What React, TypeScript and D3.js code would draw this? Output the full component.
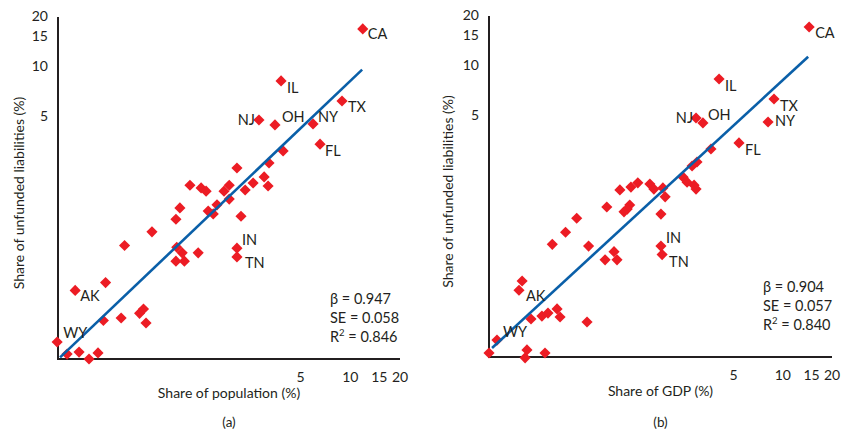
import React from "react";
import * as d3 from "d3";

// ---------- DATA ----------
const tickValues = [5, 10, 15, 20];

// Panel (a): share of population vs share of unfunded liabilities (%)
const popShare = [11.9, 3.81, 8.91, 2.8, 3.5, 5.95, 6.56, 3.92, 3.22, 2.06, 3.01, 2.58, 3.18, 2.31, 1.85, 1.72, 1.07, 1.25, 1.34, 1.85, 0.93, 1.56, 1.38, 1.48, 2.18, 0.88, 0.63, 0.43, 0.89, 0.96, 0.88, 0.99, 1.2, 2.06, 2.06, 0.33, 0.216, 0.32, 0.41, 0.53, 0.56, 0.58, 0.168, 0.193, 0.228, 0.262, 0.297];
const liabShareA = [16.5, 8.02, 6.07, 4.67, 4.36, 4.42, 3.34, 3.04, 2.57, 2.4, 2.12, 1.95, 1.87, 1.77, 1.89, 1.74, 1.89, 1.82, 1.74, 1.56, 1.38, 1.44, 1.32, 1.27, 1.23, 1.18, 0.99, 0.82, 0.8, 0.74, 0.66, 0.66, 0.74, 0.79, 0.7, 0.49, 0.44, 0.29, 0.3, 0.32, 0.34, 0.28, 0.215, 0.182, 0.187, 0.17, 0.185];
const stateA = ["CA", "IL", "TX", "NJ", "OH", "NY", "FL", "", "", "", "", "", "", "", "", "", "", "", "", "", "", "", "", "", "", "", "", "", "", "", "", "", "", "IN", "TN", "", "AK", "", "", "", "", "", "WY", "", "", "", ""];
const fitA = { alpha: -0.043, beta: 0.947, xFrom: 0.175, xTo: 11.8 };
const statsA = ["β = 0.947", "SE = 0.058", "R2 = 0.846"];

// Panel (b): share of GDP vs share of unfunded liabilities (%)
const gdpShare = [14.5, 4.08, 8.84, 2.95, 3.25, 8.13, 5.4, 3.64, 2.99, 2.79, 2.46, 2.6, 2.87, 2.95, 1.54, 1.63, 1.85, 1.91, 1.3, 1.18, 1.01, 0.84, 1.16, 1.12, 1.07, 1.8, 0.55, 0.47, 0.39, 0.65, 0.93, 0.97, 0.82, 1.8, 1.83, 0.255, 0.244, 0.289, 0.337, 0.367, 0.417, 0.435, 0.636, 0.179, 0.16, 0.273, 0.266, 0.352];
const liabShareB = [16.7, 8.15, 6.18, 4.75, 4.44, 4.5, 3.37, 3.1, 2.59, 2.45, 2.1, 1.96, 1.88, 1.78, 1.91, 1.78, 1.81, 1.6, 1.94, 1.83, 1.76, 1.39, 1.43, 1.35, 1.3, 1.26, 1.19, 0.98, 0.83, 0.81, 0.75, 0.67, 0.67, 0.81, 0.72, 0.5, 0.44, 0.296, 0.308, 0.321, 0.34, 0.304, 0.284, 0.221, 0.185, 0.193, 0.173, 0.185];
const stateB = ["CA", "IL", "TX", "NJ", "OH", "NY", "FL", "", "", "", "", "", "", "", "", "", "", "", "", "", "", "", "", "", "", "", "", "", "", "", "", "", "", "IN", "TN", "", "AK", "", "", "", "", "", "", "WY", "", "", "", ""];
const fitB = { alpha: 0.0, beta: 0.904, xFrom: 0.167, xTo: 14.3 };
const statsB = ["β = 0.904", "SE = 0.057", "R2 = 0.840"];

// ---------- LAYOUT / STYLE ----------
const FONT = "Lato, 'Open Sans', sans-serif";
const TEXT = "#231f20";
const RED = "#ec1c24";
const BLUE = "#0a5fa8";

type Off = [number, number, "start" | "end"];
const labelOffA: Record<string, Off> = {
  CA: [5, 10, "start"], IL: [6, 12, "start"], TX: [6, 11, "start"], NJ: [-4, 5, "end"],
  OH: [7, -3, "start"], NY: [5, -2, "start"], FL: [5, 12, "start"], IN: [5, -3, "start"],
  TN: [8, 11, "start"], AK: [5, 11, "start"], WY: [6, -4, "start"],
};
const labelOffB: Record<string, Off> = {
  CA: [6, 11, "start"], IL: [6, 12, "start"], TX: [6, 12, "start"], NJ: [-3, 5, "end"],
  OH: [5, -3, "start"], NY: [7, 4, "start"], FL: [6, 12, "start"], IN: [5, -3, "start"],
  TN: [7, 12, "start"], AK: [7, 11, "start"], WY: [6, -3, "start"],
};

interface PanelProps {
  xs: number[]; ys: number[]; names: string[];
  fit: { alpha: number; beta: number; xFrom: number; xTo: number };
  stats: string[];
  xDomain: [number, number]; xRange: [number, number];
  yDomain: [number, number]; yRange: [number, number];
  labelOff: Record<string, Off>;
  xTitle: string; yTitle: string; tag: string;
  statsX: number; statsY: number; xTickY: number; yTitleX: number;
}

const diamond = d3.symbol().type(d3.symbolSquare).size(62)();

function Panel(p: PanelProps) {
  const x = d3.scaleLog().domain(p.xDomain).range(p.xRange);
  const y = d3.scaleLog().domain(p.yDomain).range(p.yRange);
  const x0 = p.xRange[0];
  const y0 = p.yRange[0];
  const fitPts: [number, number][] = [p.fit.xFrom, p.fit.xTo].map((v) => [
    x(v),
    y(Math.pow(10, p.fit.alpha + p.fit.beta * Math.log10(v))),
  ]);
  const line = d3.line();
  const cx = (p.xRange[0] + p.xRange[1]) / 2;
  return (
    <g fontFamily={FONT} fill={TEXT}>
      {/* axes */}
      <line x1={x0} x2={x0} y1={y0 + 1} y2={p.yRange[1] + 2} stroke={TEXT} strokeWidth={2} />
      <line x1={x0 - 1} x2={p.xRange[1]} y1={y0} y2={y0} stroke={TEXT} strokeWidth={2} />
      {tickValues.map((t) => (
        <text key={"yt" + t} x={x0 - 10} y={y(t)} textAnchor="end" dominantBaseline="central" fontSize={14}>
          {t}
        </text>
      ))}
      {tickValues.map((t) => (
        <text key={"xt" + t} x={x(t)} y={p.xTickY} textAnchor="middle" fontSize={14}>
          {t}
        </text>
      ))}
      {/* points */}
      {p.xs.map((v, i) => (
        <path
          key={"pt" + i}
          d={diamond}
          transform={`translate(${x(v)},${y(p.ys[i])}) rotate(45)`}
          fill={RED}
        />
      ))}
      {/* regression line */}
      <path d={line(fitPts) || ""} stroke={BLUE} strokeWidth={2.6} fill="none" />
      {/* state labels */}
      {p.names.map((n, i) => {
        if (!n) return null;
        const o = p.labelOff[n];
        return (
          <text key={"lb" + i} x={x(p.xs[i]) + o[0]} y={y(p.ys[i]) + o[1]} textAnchor={o[2]} fontSize={14.5}>
            {n}
          </text>
        );
      })}
      {/* stats */}
      {p.stats.map((s, i) => {
        if (s.startsWith("R2")) {
          return (
            <text key={"st" + i} x={p.statsX} y={p.statsY + i * 19} fontSize={14.5}>
              R<tspan fontSize={9.5} dy={-6}>2</tspan>
              <tspan dy={6}>{s.slice(2)}</tspan>
            </text>
          );
        }
        return (
          <text key={"st" + i} x={p.statsX} y={p.statsY + i * 19} fontSize={14.5}>
            {s}
          </text>
        );
      })}
      {/* titles */}
      <text x={cx} y={p.xTickY + 16} textAnchor="middle" fontSize={14}>
        {p.xTitle}
      </text>
      <text
        transform={`translate(${p.yTitleX},${(p.yRange[0] + p.yRange[1]) / 2 + 6}) rotate(-90)`}
        textAnchor="middle"
        dominantBaseline="central"
        fontSize={14}
      >
        {p.yTitle}
      </text>
      <text x={cx} y={427} textAnchor="middle" fontSize={13.5}>
        {p.tag}
      </text>
    </g>
  );
}

export default function App() {
  return (
    <svg width={842} height={433} style={{ position: "absolute", left: 0, top: 0, background: "#fff" }}>
      <rect width={842} height={433} fill="#fff" />
      <Panel
        xs={popShare} ys={liabShareA} names={stateA} fit={fitA} stats={statsA}
        xDomain={[0.17, 20]} xRange={[58, 400]} yDomain={[0.17, 20]} yRange={[359, 15]}
        labelOff={labelOffA} xTitle="Share of population (%)"
        yTitle="Share of unfunded liabilities (%)" tag="(a)"
        statsX={330} statsY={304} xTickY={382} yTitleX={18}
      />
      <Panel
        xs={gdpShare} ys={liabShareB} names={stateB} fit={fitB} stats={statsB}
        xDomain={[0.16, 20]} xRange={[489, 832]} yDomain={[0.175, 20]} yRange={[357, 14]}
        labelOff={labelOffB} xTitle="Share of GDP (%)"
        yTitle="Share of unfunded liabilities (%)" tag="(b)"
        statsX={763} statsY={292} xTickY={380} yTitleX={447}
      />
    </svg>
  );
}
